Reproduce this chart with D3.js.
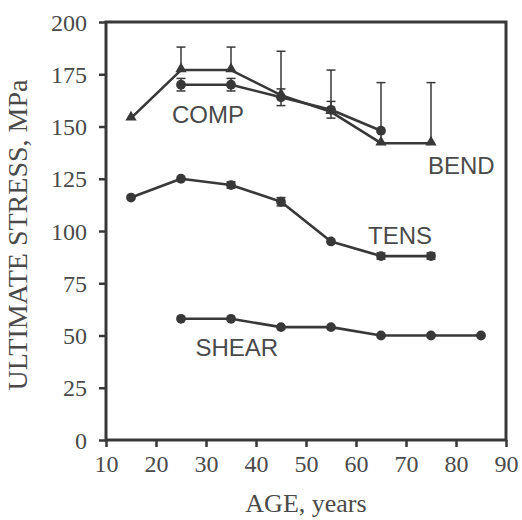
<!DOCTYPE html>
<html>
<head>
<meta charset="utf-8">
<script src="https://cdn.jsdelivr.net/npm/d3@7/dist/d3.min.js"></script>
<style>
  html, body { margin: 0; padding: 0; background: #fff; }
  svg { display: block; }
</style>
</head>
<body>
<svg id="chart" width="522" height="520"></svg>
<script>
// Ultimate stress of bone by age for four loading modes
const xTicks = [10, 20, 30, 40, 50, 60, 70, 80, 90];
const yTicks = [0, 25, 50, 75, 100, 125, 150, 175, 200];

const bendAge = [15, 25, 35, 45, 55, 65, 75];
const bendVal = [154, 177, 177, 165, 157, 142, 142];
const bendErrUp = [0, 11, 11, 21, 20, 29, 29];

const compAge = [25, 35, 45, 55, 65];
const compVal = [170, 170, 164, 158, 148];
const compErr = [3, 3, 4, 4, 0];

const tensAge = [15, 25, 35, 45, 55, 65, 75];
const tensVal = [116, 125, 122, 114, 95, 88, 88];
const tensErr = [0, 0, 1.5, 2, 0, 1.5, 1.5];

const shearAge = [25, 35, 45, 55, 65, 75, 85];
const shearVal = [58, 58, 54, 54, 50, 50, 50];

const seriesLabels = [
  { text: "COMP", age: 23.2, val: 151.5 },
  { text: "BEND", age: 74.4, val: 127.5 },
  { text: "TENS", age: 62.4, val: 94 },
  { text: "SHEAR", age: 27.9, val: 40 }
];

const ink = "#383838";
const textInk = "#4a4a4a";

const svg = d3.select("#chart");
const x = d3.scaleLinear().domain([10, 90]).range([106, 506]);
const y = d3.scaleLinear().domain([0, 200]).range([440, 22]);

// frame
svg.append("rect")
  .attr("x", x(10)).attr("y", y(200))
  .attr("width", x(90) - x(10)).attr("height", y(0) - y(200))
  .attr("fill", "none").attr("stroke", ink).attr("stroke-width", 3);

// axes
const xAxis = svg.append("g").attr("transform", `translate(0,${y(0)})`)
  .call(d3.axisBottom(x).tickValues(xTicks).tickSize(7).tickPadding(8));
const yAxis = svg.append("g").attr("transform", `translate(${x(10)},0)`)
  .call(d3.axisLeft(y).tickValues(yTicks).tickSize(7).tickPadding(12));
[xAxis, yAxis].forEach(g => {
  g.select(".domain").remove();
  g.selectAll(".tick line").attr("stroke", ink).attr("stroke-width", 2.5);
  g.selectAll(".tick text")
    .attr("fill", textInk)
    .style("font-family", "'Liberation Serif', 'Times New Roman', serif")
    .style("font-size", "24px");
});
yAxis.selectAll(".tick text").attr("dy", "0.34em");

// axis titles
svg.append("text")
  .attr("x", (x(10) + x(90)) / 2).attr("y", 512)
  .attr("text-anchor", "middle").attr("fill", textInk)
  .style("font-family", "'Liberation Serif', 'Times New Roman', serif")
  .style("font-size", "26px")
  .text("AGE, years");
svg.append("text")
  .attr("transform", `translate(27,${(y(0) + y(200)) / 2 + 4}) rotate(-90)`)
  .attr("text-anchor", "middle").attr("fill", textInk)
  .style("font-family", "'Liberation Serif', 'Times New Roman', serif")
  .style("font-size", "28px")
  .text("ULTIMATE STRESS, MPa");

const line = d3.line().x(d => x(d[0])).y(d => y(d[1]));
const zip = (a, b) => a.map((v, i) => [v, b[i]]);

function errorBars(ages, vals, up, down) {
  const g = svg.append("g").attr("stroke", ink).attr("stroke-width", 1.5);
  ages.forEach((a, i) => {
    const hi = vals[i] + up[i], lo = vals[i] - down[i];
    if (hi === lo) return;
    g.append("line").attr("x1", x(a)).attr("x2", x(a)).attr("y1", y(hi)).attr("y2", y(lo));
    if (up[i] > 0) g.append("line").attr("x1", x(a) - 4.5).attr("x2", x(a) + 4.5).attr("y1", y(hi)).attr("y2", y(hi));
    if (down[i] > 0) g.append("line").attr("x1", x(a) - 4.5).attr("x2", x(a) + 4.5).attr("y1", y(lo)).attr("y2", y(lo));
  });
}

function series(ages, vals, shape) {
  svg.append("path").datum(zip(ages, vals))
    .attr("d", line).attr("fill", "none")
    .attr("stroke", ink).attr("stroke-width", 2.6).attr("stroke-linejoin", "round");
  const sym = d3.symbol().type(shape === "triangle" ? d3.symbolTriangle : d3.symbolCircle)
    .size(shape === "triangle" ? 55 : 75);
  svg.append("g").selectAll("path").data(zip(ages, vals)).join("path")
    .attr("transform", d => `translate(${x(d[0])},${y(d[1]) + (shape === "triangle" ? -1 : 0)})`)
    .attr("d", sym).attr("fill", ink);
}

const zeros = n => new Array(n).fill(0);

errorBars(bendAge, bendVal, bendErrUp, zeros(bendAge.length));
errorBars(compAge, compVal, compErr, compErr);
errorBars(tensAge, tensVal, tensErr, tensErr);

series(bendAge, bendVal, "triangle");
series(compAge, compVal, "circle");
series(tensAge, tensVal, "circle");
series(shearAge, shearVal, "circle");

// series names
svg.append("g").selectAll("text").data(seriesLabels).join("text")
  .attr("x", d => x(d.age)).attr("y", d => y(d.val))
  .attr("fill", textInk)
  .style("font-family", "'Liberation Sans', Arial, sans-serif")
  .style("font-size", "24px")
  .text(d => d.text);
</script>
</body>
</html>
